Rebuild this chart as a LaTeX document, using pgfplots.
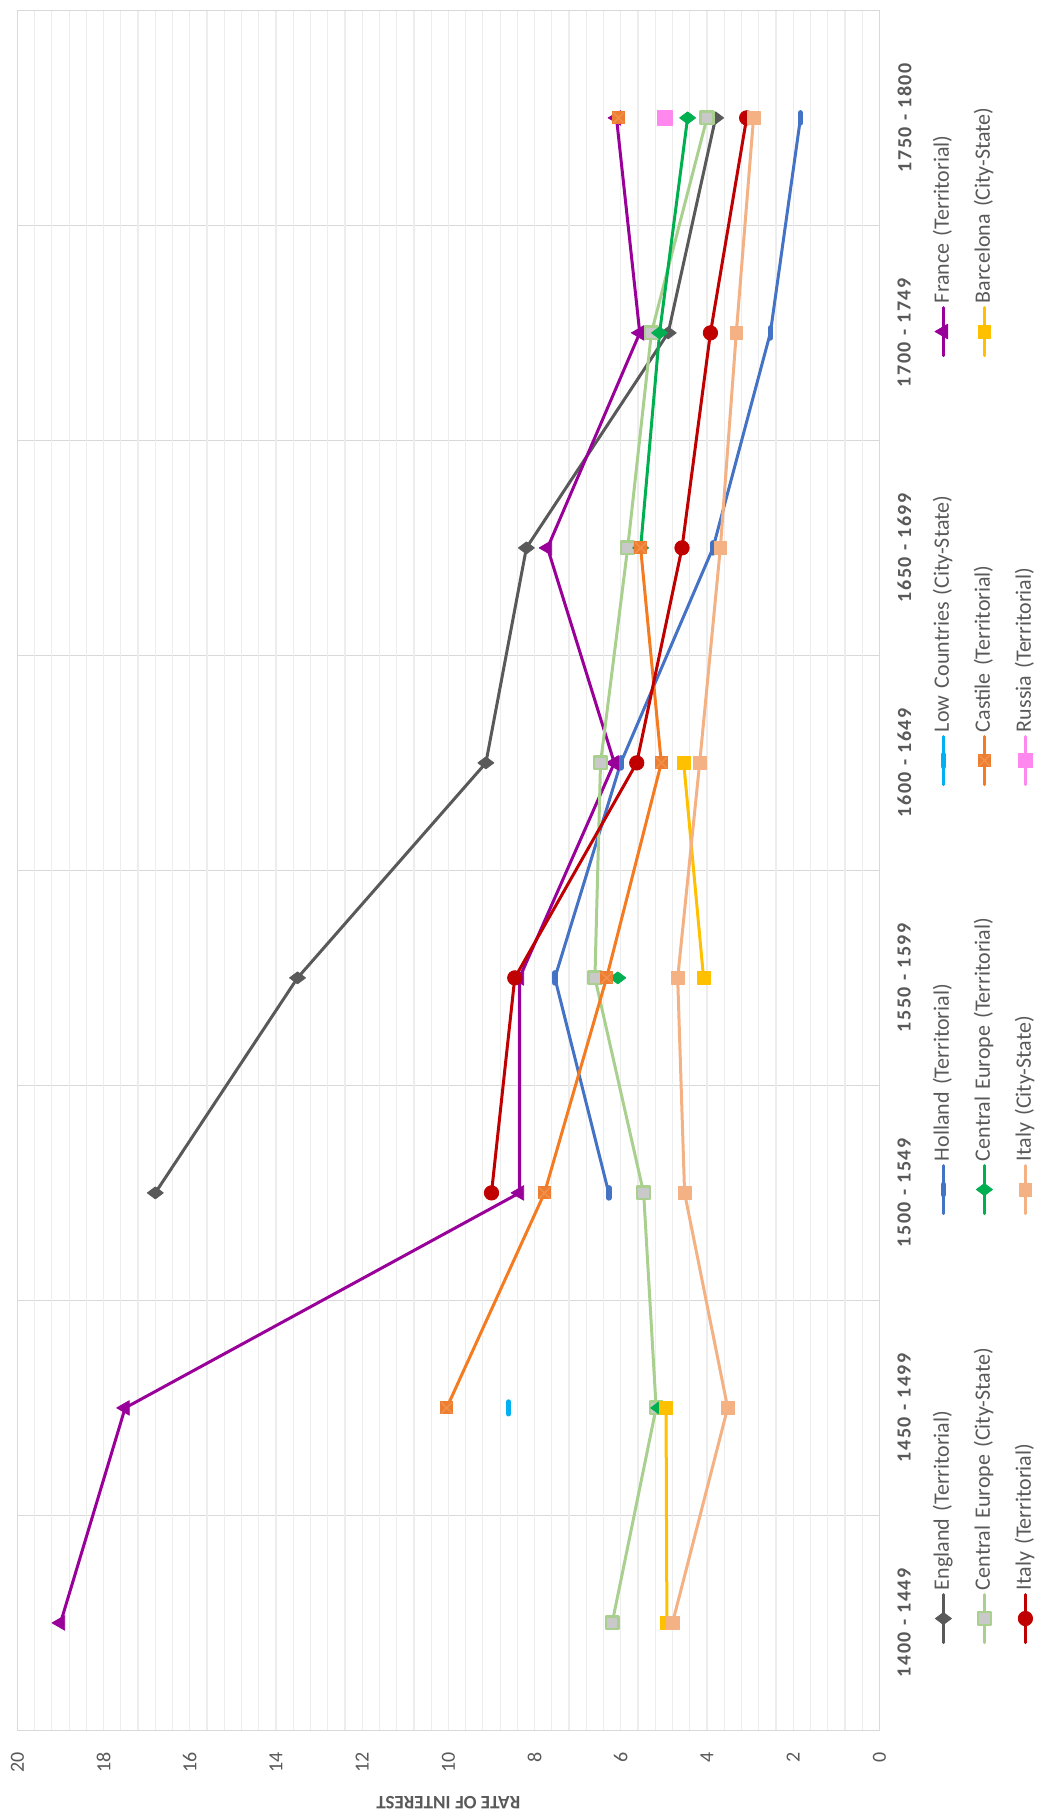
\documentclass[border=0pt]{standalone}
\usepackage{graphicx}
\usepackage{fontspec}
\setmainfont{Carlito}
\newfontfamily\catfont[LetterSpace=8]{Carlito}
\usepackage{pgfplots}
\pgfplotsset{compat=1.18}
\definecolor{txt}{HTML}{595959}
\definecolor{catgrid}{HTML}{D9D9D9}
\definecolor{vgrid}{HTML}{EDEDED}
\definecolor{cEng}{HTML}{595959}
\definecolor{cHol}{HTML}{4472C4}
\definecolor{cLow}{HTML}{00B0F0}
\definecolor{cFra}{HTML}{990099}
\definecolor{cCECS}{HTML}{A9D08E}
\definecolor{cCECSfill}{HTML}{C9C9C9}
\definecolor{cCET}{HTML}{00B050}
\definecolor{cCas}{HTML}{F47B20}
\definecolor{cCasM}{HTML}{ED7D31}
\definecolor{cCasX}{HTML}{F0904A}
\definecolor{cBar}{HTML}{FFC000}
\definecolor{cItT}{HTML}{C00000}
\definecolor{cItCS}{HTML}{F4B183}
\definecolor{cRus}{HTML}{FF88EE}
\pgfdeclareplotmark{sqx}{%
  \pgfpathrectangle{\pgfpoint{-\pgfplotmarksize}{-\pgfplotmarksize}}{\pgfpoint{2\pgfplotmarksize}{2\pgfplotmarksize}}%
  \pgfusepathqfill
  \pgfpathmoveto{\pgfpoint{-0.8\pgfplotmarksize}{-0.8\pgfplotmarksize}}%
  \pgfpathlineto{\pgfpoint{0.8\pgfplotmarksize}{0.8\pgfplotmarksize}}%
  \pgfpathmoveto{\pgfpoint{-0.8\pgfplotmarksize}{0.8\pgfplotmarksize}}%
  \pgfpathlineto{\pgfpoint{0.8\pgfplotmarksize}{-0.8\pgfplotmarksize}}%
  \pgfusepathqstroke}
\begin{document}
\rotatebox{90}{%
\begin{tikzpicture}
\useasboundingbox (-42.8pt,-81.8pt) rectangle (865.2pt,439.7pt);
\begin{axis}[
  scale only axis, width=860pt, height=431pt,
  at={(0,0)}, anchor=south west,
  xmin=-0.5, xmax=7.5, ymin=0, ymax=20,
  xtick={0,...,7},
  xticklabels={1400 - 1449,1450 - 1499,1500 - 1549,1550 - 1599,1600 - 1649,1650 - 1699,1700 - 1749,1750 - 1800},
  minor xtick={-0.5,0.5,...,7.5},
  xminorgrids,
  minor x grid style={catgrid, line width=0.8pt},
  ytick={0,2,...,20},
  minor y tick num=4,
  ymajorgrids, yminorgrids,
  major y grid style={vgrid, line width=0.6pt},
  minor y grid style={vgrid, line width=0.6pt},
  major tick length=0pt, minor tick length=0pt,
  axis line style={draw=catgrid, line width=0.8pt},
  xticklabel style={font=\catfont\bfseries\fontsize{10}{12}\selectfont, text=txt, yshift=-5.5pt},
  yticklabel style={font=\fontsize{10}{12}\selectfont, text=txt, xshift=-7.5pt},
  /pgf/number format/assume math mode=true,
  ylabel={RATE OF INTEREST},
  every axis y label/.style={at={(axis description cs:-0.0422,0.5)}, rotate=90, anchor=center, font=\bfseries\fontsize{9.5}{11}\selectfont, text=txt},
  unbounded coords=jump,
  legend columns=4,
  legend cell align=left,
  legend style={draw=none, fill=none, at={(axis description cs:0.0465,-0.0535)}, anchor=north west,
     font=\fontsize{11}{13}\selectfont, text=txt, row sep=7pt, column sep=0pt,
     nodes={text width=186pt, align=left, inner sep=1.5pt, text height=8pt, text depth=2.5pt}},
  legend image code/.code={\draw[mark repeat=2,mark phase=2] plot coordinates {(0pt,0pt) (12pt,0pt) (24pt,0pt)};},
  every axis plot/.append style={line width=1.5pt, line join=round, line cap=round},
]
% England (Territorial)
\addplot[color=cEng, mark=diamond*, mark size=4pt, mark options={solid, fill=cEng, draw=cEng, line width=0.4pt}]
  coordinates {(2,16.8) (3,13.5) (4,9.13) (5,8.19) (6,4.9) (7,3.8)};
\addlegendentry{England (Territorial)}
% Holland (Territorial)
\addplot[color=cHol, mark=-, mark size=2.5pt, mark options={solid, draw=cHol, line width=2.8pt}]
  coordinates {(2,6.28) (3,7.53) (4,6.0) (5,3.86) (6,2.53) (7,1.83)};
\addlegendentry{Holland (Territorial)}
% Low Countries (City-State)
\addplot[color=cLow, mark=-, mark size=3pt, mark options={solid, draw=cLow, line width=2.6pt}]
  coordinates {(1,8.6)};
\addlegendentry{Low Countries (City-State)}
% France (Territorial)
\addplot[color=cFra, mark=triangle*, mark size=4.2pt, mark options={solid, fill=cFra, draw=cFra, line width=0.4pt}]
  coordinates {(0,19.0) (1,17.5) (2,8.35) (3,8.35) (4,6.15) (5,7.7) (6,5.56) (7,6.1)};
\addlegendentry{France (Territorial)}
% Central Europe (City-State)
\addplot[color=cCECS, mark=square*, mark size=3.2pt, mark options={solid, fill=cCECSfill, draw=cCECS, line width=1.2pt}]
  coordinates {(0,6.2) (1,5.18) (2,5.47) (3,6.6) (4,6.47) (5,5.84) (6,5.29) (7,4.0)};
\addlegendentry{Central Europe (City-State)}
% Central Europe (Territorial)
\addplot[color=cCET, mark=diamond*, mark size=4pt, mark options={solid, fill=cCET, draw=cCET, line width=0.4pt}]
  coordinates {(1,5.12) (2,nan) (3,6.07) (4,nan) (5,5.54) (6,5.1) (7,4.45)};
\addlegendentry{Central Europe (Territorial)}
% Castile (Territorial)
\addplot[color=cCas, mark=sqx, mark size=3.3pt, mark options={solid, fill=cCasM, draw=cCasX, line width=0.8pt}]
  coordinates {(1,10.04) (2,7.77) (3,6.33) (4,5.06) (5,5.54) (6,nan) (7,6.05)};
\addlegendentry{Castile (Territorial)}
% Barcelona (City-State)
\addplot[color=cBar, mark=square*, mark size=3.2pt, mark options={solid, fill=cBar, draw=cBar, line width=0.4pt}]
  coordinates {(0,4.93) (1,4.95) (2,nan) (3,4.08) (4,4.54)};
\addlegendentry{Barcelona (City-State)}
% Italy (Territorial)
\addplot[color=cItT, mark=*, mark size=3.6pt, mark options={solid, fill=cItT, draw=cItT, line width=0.4pt}]
  coordinates {(2,9.0) (3,8.46) (4,5.63) (5,4.58) (6,3.92) (7,3.08)};
\addlegendentry{Italy (Territorial)}
% Italy (City-State)
\addplot[color=cItCS, mark=square*, mark size=3.2pt, mark options={solid, fill=cItCS, draw=cItCS, line width=0.4pt}]
  coordinates {(0,4.8) (1,3.52) (2,4.52) (3,4.68) (4,4.17) (5,3.69) (6,3.32) (7,2.92)};
\addlegendentry{Italy (City-State)}
% Russia (Territorial)
\addplot[color=cRus, mark=square*, mark size=3.6pt, mark options={solid, fill=cRus, draw=cRus, line width=0.4pt}]
  coordinates {(7,4.98)};
\addlegendentry{Russia (Territorial)}
\end{axis}
\end{tikzpicture}}
\end{document}
